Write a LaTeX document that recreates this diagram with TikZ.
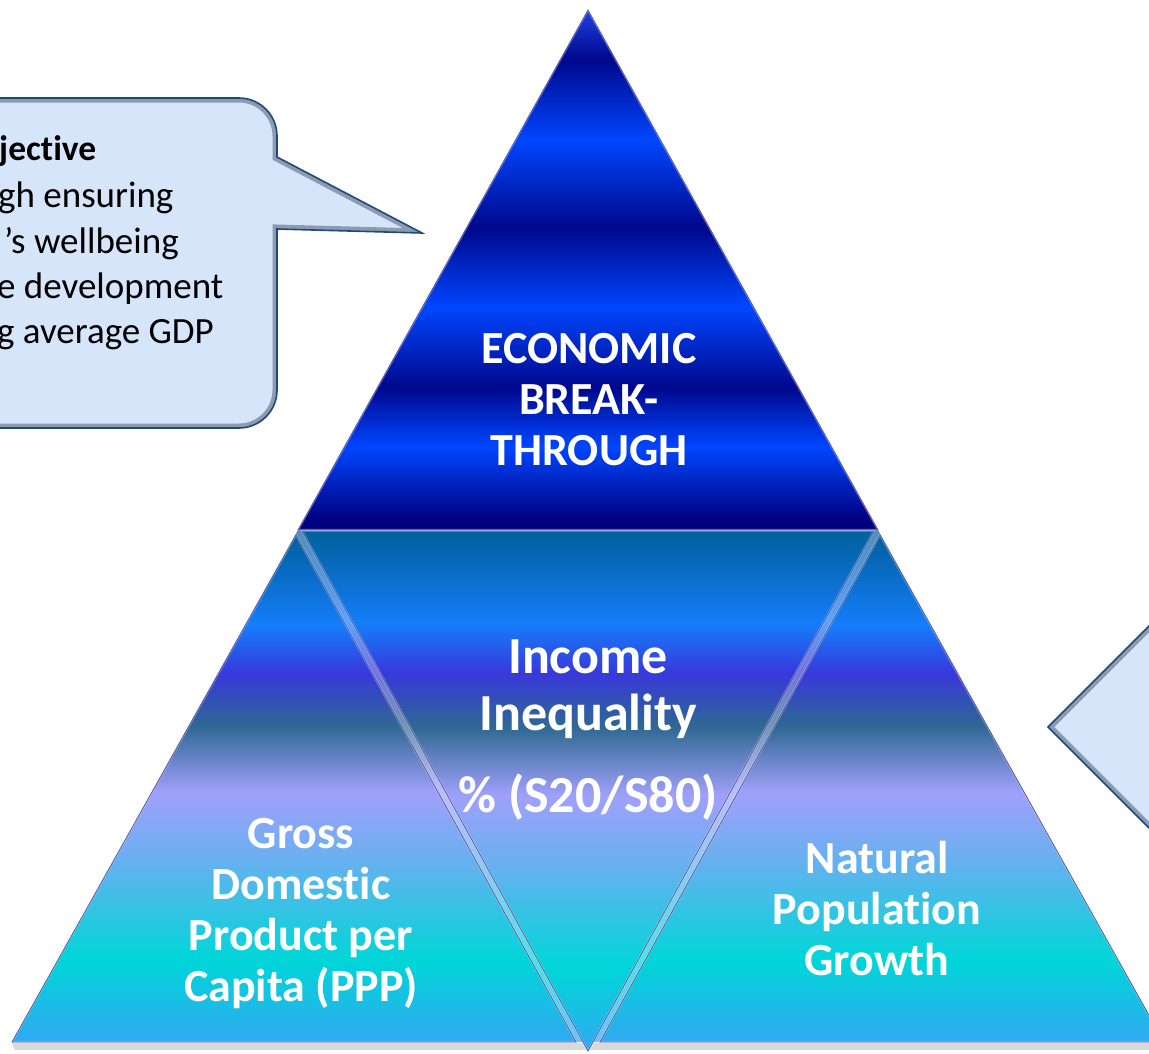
\documentclass[tikz,border=0pt]{standalone}
\usepackage{fontspec}
\setmainfont{Carlito}[Ligatures={NoCommon,NoRequired,NoContextual}]

% colours of the pyramid bands
\definecolor{tapex}{RGB}{30,64,225}
\definecolor{tnavy}{RGB}{0,8,140}
\definecolor{tbright}{RGB}{0,70,255}
\definecolor{tbase}{RGB}{0,0,128}
\definecolor{mA}{RGB}{0,96,156}
\definecolor{mB}{RGB}{20,125,250}
\definecolor{mC}{RGB}{56,56,220}
\definecolor{mD}{RGB}{46,104,146}
\definecolor{mE}{RGB}{160,160,250}
\definecolor{mF}{RGB}{104,176,240}
\definecolor{mG}{RGB}{0,214,216}
\definecolor{mH}{RGB}{48,168,240}
% callouts
\definecolor{calfill}{RGB}{214,229,250}
\definecolor{calnavy}{RGB}{31,73,125}
\definecolor{calgray}{RGB}{140,155,175}

\pgfdeclareverticalshading{topband}{100bp}{color(0bp)=(tbase); color(26bp)=(tbase); color(33bp)=(tbright); color(38.75bp)=(tnavy); color(46.4bp)=(tbright); color(54.1bp)=(tnavy); color(62.5bp)=(tbright); color(70.2bp)=(tnavy); color(75bp)=(tapex); color(100bp)=(tapex)}
\pgfdeclareverticalshading{lowband}{100bp}{color(0bp)=(mH); color(25bp)=(mH); color(33.1bp)=(mG); color(43bp)=(mF); color(49.6bp)=(mE); color(56.2bp)=(mD); color(61.4bp)=(mC); color(66.1bp)=(mB); color(75bp)=(mA); color(100bp)=(mA)}

\begin{document}
\begin{tikzpicture}[x=1pt, y=1pt,
	tri/.style={draw=blue!45!black, line width=0.8pt},
	bevel/.style={draw=white, draw opacity=0.35, line width=2pt},
	tritext/.style={text=white, align=center, inner sep=0pt, font=\bfseries\fontsize{46pt}{51pt}\selectfont},
	calltext/.style={anchor=base west, inner sep=0pt, font=\fontsize{37pt}{45pt}\selectfont}]
	\useasboundingbox (0,0) rectangle (1149,-1053);
	\clip (0,0) rectangle (1149,-1053);

	% Corners
	\coordinate (apex) at (588,-10);
	\coordinate (tl) at (298,-530);
	\coordinate (tr) at (878,-530);
	\coordinate (lapex) at (296,-535);
	\coordinate (lbl) at (12,-1042);
	\coordinate (lbr) at (576,-1042);
	\coordinate (ml) at (302,-531);
	\coordinate (mr) at (874,-531);
	\coordinate (mb) at (588,-1051);
	\coordinate (rapex) at (880,-535);
	\coordinate (rbl) at (600,-1042);
	\coordinate (rbr) at (1164,-1042);

	% Left callout
	\path[save path=\lcall] (-60,-98) -- (239,-98) arc[start angle=90, end angle=0, radius=38] -- (277,-157) -- (422,-233) -- (277,-229) -- (277,-390) arc[start angle=0, end angle=-90, radius=38] -- (-60,-428) -- cycle;
	\fill[calfill, use path=\lcall];
	\begin{scope}
		\clip[use path=\lcall];
		\draw[calgray, line width=9pt, use path=\lcall];
	\end{scope}
	\draw[calnavy, line width=1.6pt, use path=\lcall];

	\node[calltext, font=\bfseries\fontsize{35.5pt}{40pt}\selectfont] (objhead) at (-1,-160) {jective};
	\node[calltext] (objline1) at (-2,-207) {gh ensuring};
	\node[calltext] (objline2) at (4,-253) {’s wellbeing};
	\node[calltext] (objline3) at (-3,-298) {e development};
	\node[calltext] (objline4) at (-3,-343) {g average GDP};

	% Right callout
	\path[save path=\rcall] (1175,-600) -- (1048,-727) -- (1175,-854) -- cycle;
	\fill[calfill, use path=\rcall];
	\begin{scope}
		\clip[use path=\rcall];
		\draw[calgray, line width=9pt, use path=\rcall];
	\end{scope}
	\draw[calnavy, line width=1.6pt, use path=\rcall];

	% Pyramid
	\fill[black, opacity=0.15] ([yshift=-1pt]lbl) -- ([yshift=-1pt]rbr) -- ([yshift=-8pt]rbr) -- ([shift={(3pt,-8pt)}]lbl) -- cycle;
	\shade[shading=lowband] (tl) -- (tr) -- (rbr) -- (lbl) -- cycle;
	\fill[white, opacity=0.3] (tl) -- (tr) -- (rbr) -- (lbl) -- cycle;
	\shade[shading=topband, tri] (apex) -- (tr) -- (tl) -- cycle;
	\shade[shading=lowband, tri] (lapex) -- (lbr) -- (lbl) -- cycle;
	\shade[shading=lowband, tri] (ml) -- (mr) -- (mb) -- cycle;
	\shade[shading=lowband, tri] (rapex) -- (rbr) -- (rbl) -- cycle;
	\draw[bevel, scale around={0.92:(588,-360)}] (apex) -- (tr) -- (tl) -- cycle;
	\draw[bevel, scale around={0.915:(295,-875)}] (lapex) -- (lbr) -- (lbl) -- cycle;
	\draw[bevel, scale around={0.915:(588,-699)}] (ml) -- (mr) -- (mb) -- cycle;
	\draw[bevel, scale around={0.915:(881,-875)}] (rapex) -- (rbr) -- (rbl) -- cycle;

	% Labels
	\node[tritext] (breakthrough) at (589,-400) {ECONOMIC\\BREAK-\\THROUGH};
	\node[tritext, font=\bfseries\fontsize{52pt}{57pt}\selectfont] (inequality) at (588,-730) {Income\\Inequality\\[25pt]\%~(S20/S80)};
	\node[tritext] (gdp) at (301,-914) {Gross\\Domestic\\Product per\\Capita (PPP)};
	\node[tritext] (popgrowth) at (877,-909) {Natural\\Population\\Growth};
\end{tikzpicture}
\end{document}
